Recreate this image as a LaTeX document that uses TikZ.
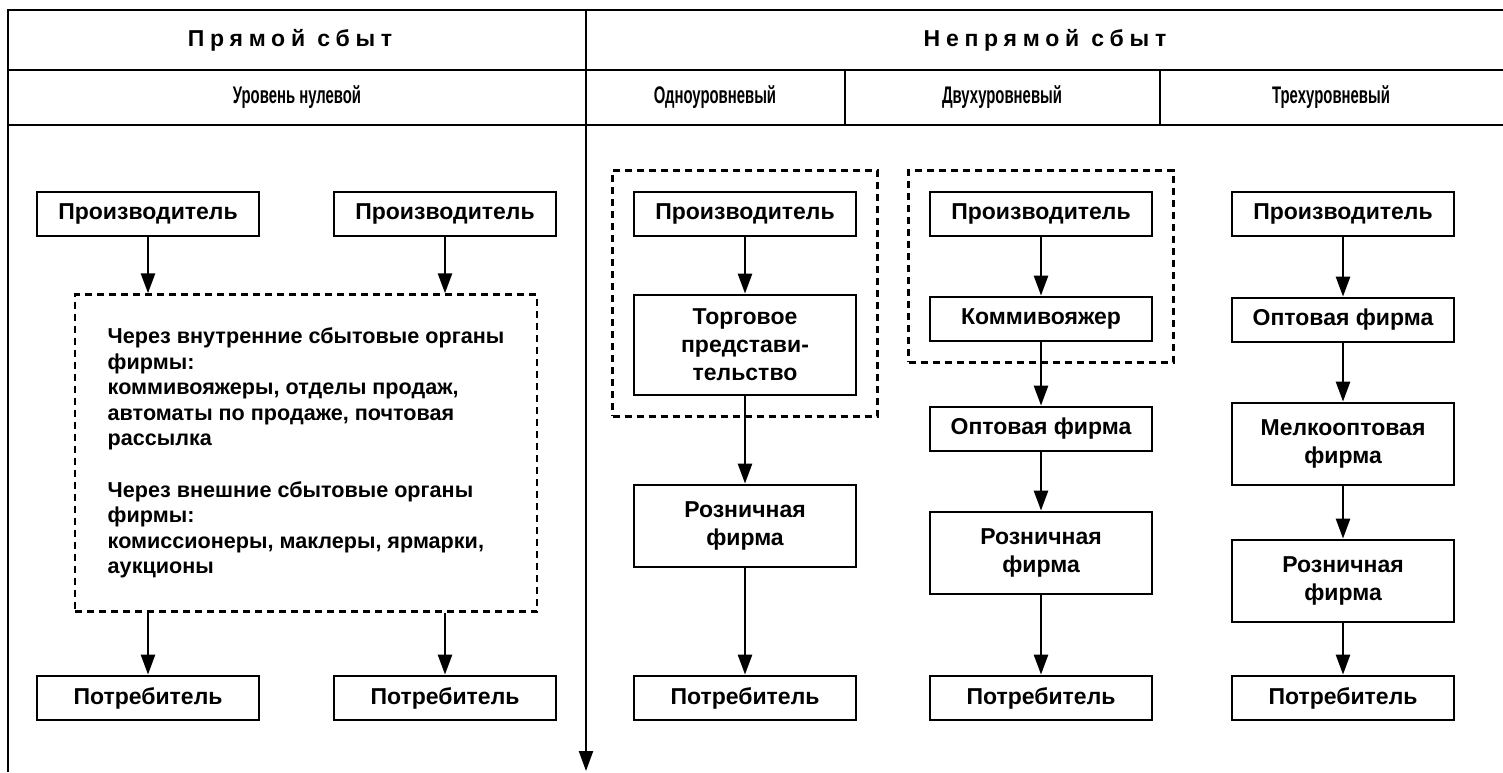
\documentclass[tikz,border=0pt]{standalone}
\usepackage{fontspec}
\setmainfont{Liberation Sans}
\newfontfamily\headfont[LetterSpace=25]{Liberation Sans}
\newfontfamily\levelfont[FakeStretch=0.62]{Liberation Sans Bold}
\usetikzlibrary{arrows.meta, fit, positioning}

\tikzset{
  unit/.style={draw, line width=1.4pt, minimum width=111pt, minimum height=22pt,
    align=center, inner sep=2pt, font=\bfseries\fontsize{11.5}{14}\selectfont},
  unittall/.style={unit, minimum height=41pt},
  group/.style={draw, dash pattern=on 3.5pt off 2.5pt, line width=1.2pt, inner sep=10pt},
  flow/.style={-{Triangle[length=10pt,width=7pt]}, line width=1.3pt},
  frame/.style={line width=1.1pt},
  title/.style={font=\headfont\bfseries\fontsize{11.5}{14}\selectfont},
  level/.style={font=\levelfont\fontsize{12}{14}\selectfont},
}

\begin{document}
\begin{tikzpicture}[x=0.5pt, y=-0.5pt]
\useasboundingbox (0,0) rectangle (1503,772);

% рамка таблицы
\draw[frame] (8,772) -- (8,10) -- (1503,10);
\draw[frame] (8,70) -- (1503,70);
\draw[frame] (8,125) -- (1503,125);
\draw[frame] (845,70) -- (845,125);
\draw[frame] (1160,70) -- (1160,125);
\coordinate (divtop) at (586,10);
\coordinate (divend) at (586,771);
\draw[flow, line width=1.1pt] (divtop) -- (divend);

% заголовки
\node[title] (direct) at (290,40) {Прямой сбыт};
\node[title] (indirect) at (1045,40) {Непрямой сбыт};
\node[level] (lvl0) at (297,97) {Уровень нулевой};
\node[level] (lvl1) at (715,97) {Одноуровневый};
\node[level] (lvl2) at (1002,97) {Двухуровневый};
\node[level] (lvl3) at (1331,97) {Трехуровневый};

% нулевой уровень
\node[unit] (prodA) at (148,214) {Производитель};
\node[unit] (prodB) at (445,214) {Производитель};
\node[group, inner sep=0pt, minimum width=231pt, minimum height=158.5pt, align=left,
  font=\bfseries\fontsize{10.8}{12.75}\selectfont] (organs) at (306,453)
  {Через внутренние сбытовые органы\\фирмы:\\коммивояжеры, отделы продаж,\\
   автоматы по продаже, почтовая\\рассылка\\[13pt]
   Через внешние сбытовые органы\\фирмы:\\комиссионеры, маклеры, ярмарки,\\аукционы};
\node[unit] (consA) at (148,698) {Потребитель};
\node[unit] (consB) at (445,698) {Потребитель};
\draw[flow] (prodA) -- (prodA |- organs.north);
\draw[flow] (prodB) -- (prodB |- organs.north);
\draw[flow] (consA |- organs.south) -- (consA);
\draw[flow] (consB |- organs.south) -- (consB);

% одноуровневый
\node[unit] (prod1) at (745,214) {Производитель};
\node[unit, minimum height=50pt] (agency) at (745,345) {Торговое\\представи-\\тельство};
\node[unittall] (retail1) at (745,526) {Розничная\\фирма};
\node[unit] (cons1) at (745,698) {Потребитель};
\node[group, fit=(prod1)(agency)] (grp1) {};
\draw[flow] (prod1) -- (agency);
\draw[flow] (agency) -- (retail1);
\draw[flow] (retail1) -- (cons1);

% двухуровневый
\node[unit] (prod2) at (1041,214) {Производитель};
\node[unit] (salesman) at (1041,319) {Коммивояжер};
\node[unit] (whole2) at (1041,429) {Оптовая фирма};
\node[unittall] (retail2) at (1041,553) {Розничная\\фирма};
\node[unit] (cons2) at (1041,698) {Потребитель};
\node[group, fit=(prod2)(salesman)] (grp2) {};
\draw[flow] (prod2) -- (salesman);
\draw[flow] (salesman) -- (whole2);
\draw[flow] (whole2) -- (retail2);
\draw[flow] (retail2) -- (cons2);

% трехуровневый
\node[unit] (prod3) at (1343,214) {Производитель};
\node[unit] (whole3) at (1343,320) {Оптовая фирма};
\node[unittall] (small3) at (1343,444) {Мелкооптовая\\фирма};
\node[unittall] (retail3) at (1343,581) {Розничная\\фирма};
\node[unit] (cons3) at (1343,698) {Потребитель};
\draw[flow] (prod3) -- (whole3);
\draw[flow] (whole3) -- (small3);
\draw[flow] (small3) -- (retail3);
\draw[flow] (retail3) -- (cons3);
\end{tikzpicture}
\end{document}
